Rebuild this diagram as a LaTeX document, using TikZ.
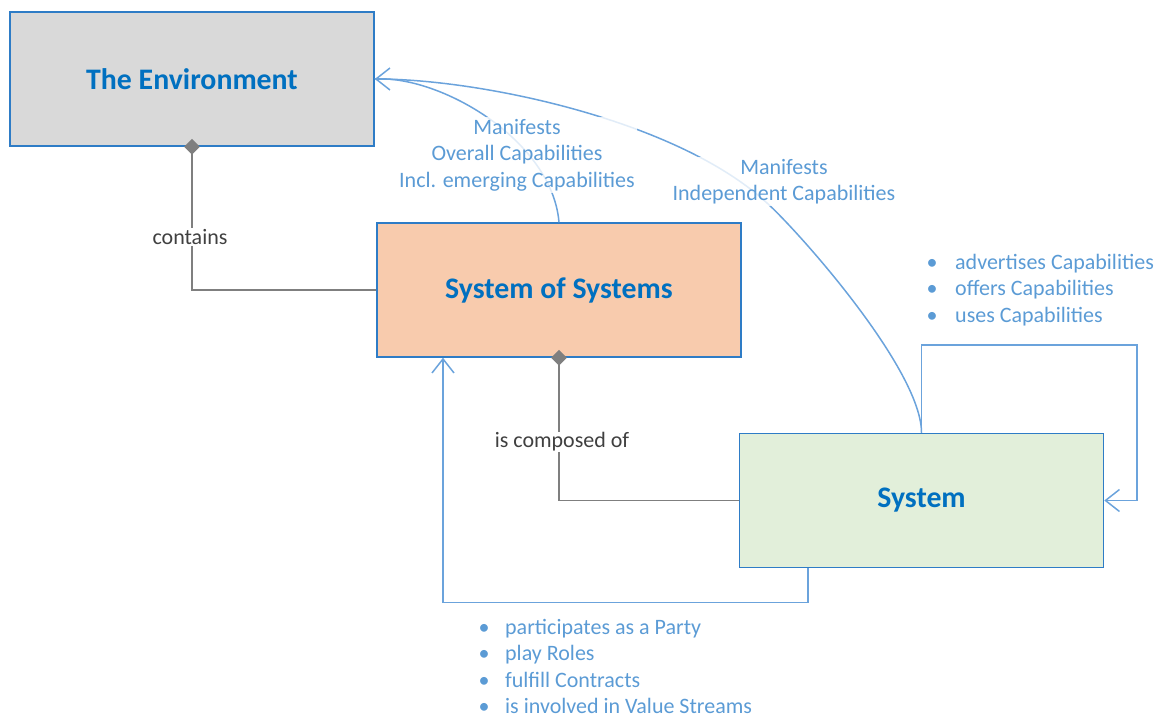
\documentclass[tikz,border=0pt]{standalone}
\usepackage{fontspec}
\setmainfont{Carlito}
\usetikzlibrary{arrows.meta,shapes.geometric}
\definecolor{boxblue}{HTML}{2E7CC6}
\definecolor{titleblue}{HTML}{0070C0}
\definecolor{lblue}{HTML}{5B9BD5}
\definecolor{lineblue}{HTML}{6BA3DC}
\definecolor{connGray}{HTML}{7F7F7F}
\definecolor{envfill}{HTML}{D9D9D9}
\definecolor{sosfill}{HTML}{F8CBAD}
\definecolor{sysfill}{HTML}{E2EFDA}
\definecolor{darktext}{HTML}{404040}
\begin{document}
\begin{tikzpicture}[x=1pt,y=-1pt,
  entity/.style={draw=boxblue, line width=1.5pt, minimum width=364pt, minimum height=134pt,
    inner sep=0pt, font=\fontsize{29.8}{34}\selectfont\bfseries, text=titleblue},
  gconn/.style={draw=connGray, line width=1.5pt},
  bconn/.style={draw=lineblue, line width=1.5pt},
  tipopen/.style={-{Straight Barb[length=14pt,width=22pt]}},
  lbl/.style={font=\fontsize{22}{26.5}\selectfont, text=lblue, align=center,
    fill=white, fill opacity=0.8, text opacity=1, inner sep=2pt},
  blist/.style={font=\fontsize{22}{26.3}\selectfont, text=lblue, align=left, inner sep=0pt, anchor=west},
  glbl/.style={font=\fontsize{22}{26.5}\selectfont, text=darktext, fill=white, inner sep=1pt},
  dmd/.style={diamond, fill=connGray, inner sep=0pt, minimum width=16pt, minimum height=16pt}
]
\useasboundingbox (0,0) rectangle (1161,717);

\node[entity, fill=envfill] (env) at (192,79) {The Environment};
\node[entity, fill=sosfill] (sos) at (559,290) {System of Systems};
\node[entity, fill=sysfill] (sys) at (921.5,500.5) {System};

% composition connectors
\draw[gconn] (env.south) |- (sos.west);
\node[glbl] (lcont) at (190,237) {contains};
\draw[gconn] (sos.south) |- (sys.west);
\node[glbl] (lcomp) at (562,442) {is composed of};
\node[dmd] (d1) at (env.south) {};
\node[dmd] (d2) at (sos.south) {};

% blue connectors
\coordinate (b1) at ([xshift=-113.5pt]sys.south);
\coordinate (b2) at ([xshift=-116pt]sos.south);
\draw[bconn, tipopen] (b1) -- ++(0,34) -| (b2);
\coordinate (loopA) at (921.5,345);
\coordinate (loopB) at (1137,345);
\draw[bconn, tipopen] (sys.north) -- (loopA) -- (loopB) |- (sys.east);
\coordinate (mid) at (767,203);
\draw[bconn, tipopen] (sys.north) .. controls (921.5,370) and (800,233) .. (mid)
  .. controls (677,120) and (480,79) .. (env.east);
\draw[bconn] (sos.north) .. controls (552,140) and (440,75) .. (env.east);

\node[lbl] (l1) at (517,155) {Manifests\\Overall Capabilities\\Incl. emerging Capabilities};
\node[lbl] (l2) at (784,181.5) {Manifests\\Independent Capabilities};

\node[blist] (list1) at (926.5,290) {\makebox[28.5pt][l]{\textbullet}advertises Capabilities\\
\makebox[28.5pt][l]{\textbullet}offers Capabilities\\
\makebox[28.5pt][l]{\textbullet}uses Capabilities};
\node[blist] (list2) at (478.5,666.5) {\makebox[26.5pt][l]{\textbullet}participates as a Party\\
\makebox[26.5pt][l]{\textbullet}play Roles\\
\makebox[26.5pt][l]{\textbullet}fulfill Contracts\\
\makebox[26.5pt][l]{\textbullet}is involved in Value Streams};
\end{tikzpicture}
\end{document}
